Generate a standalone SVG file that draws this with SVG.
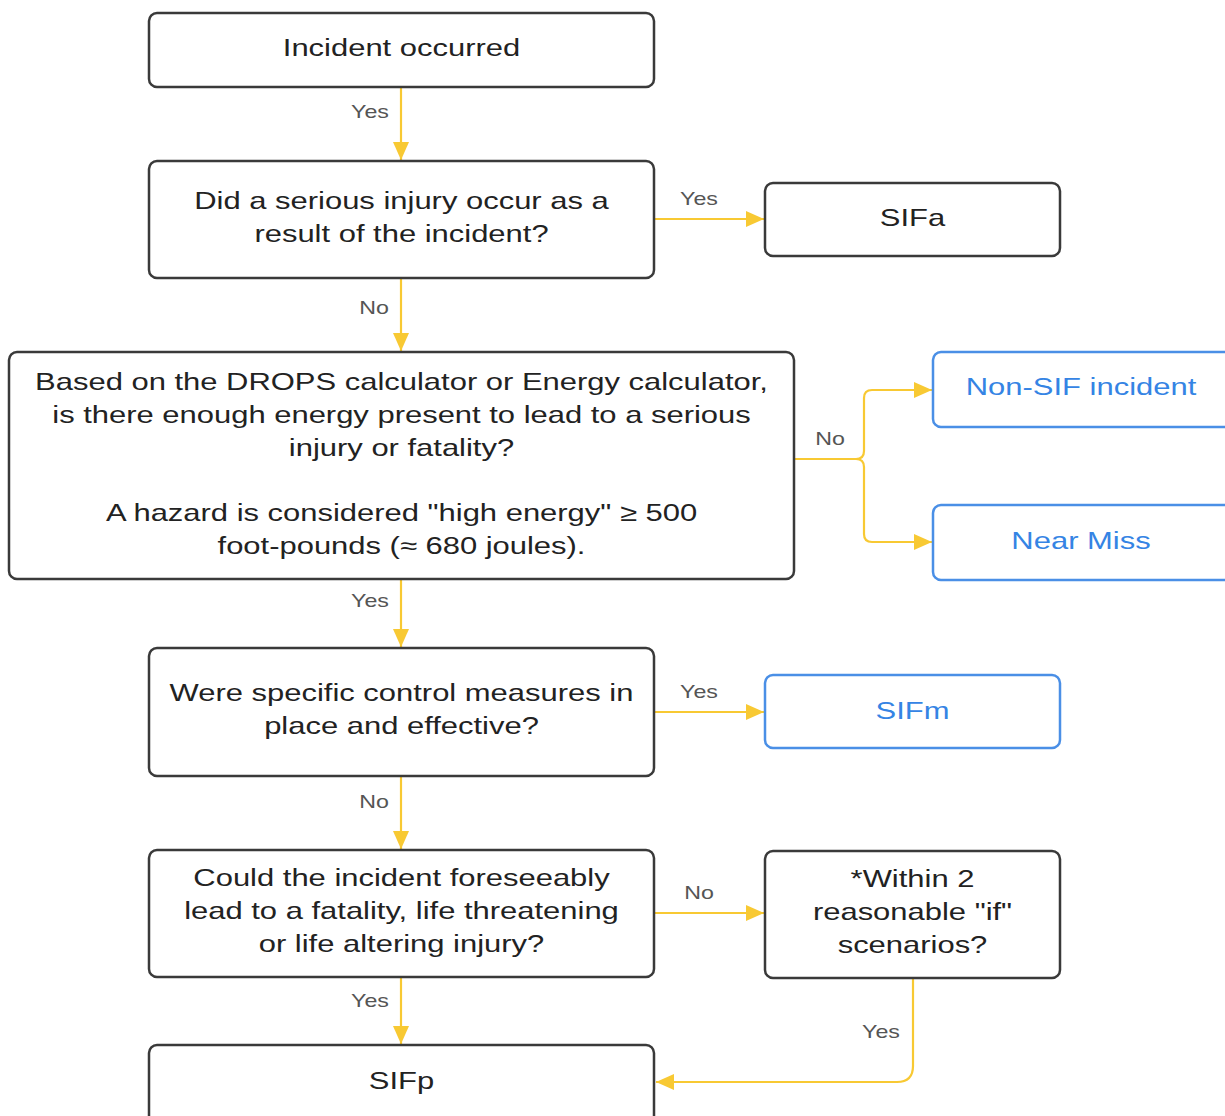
<svg xmlns="http://www.w3.org/2000/svg" width="1225" height="1116" viewBox="0 0 1225 1116">
<defs>
<marker id="arr" markerUnits="userSpaceOnUse" markerWidth="20" markerHeight="16" refX="18" refY="8" orient="auto">
<path d="M0,0 L18,8 L0,16 z" fill="#f8c933"/>
</marker>
<style>
.box{fill:#fff;stroke:#3a3a3a;stroke-width:2.5}
.blue{fill:#fff;stroke:#4a8fe6;stroke-width:2.5}
.t{font-family:"Liberation Sans",Arial,sans-serif;font-size:24px;fill:#222;text-anchor:middle}
.tb{font-family:"Liberation Sans",Arial,sans-serif;font-size:24px;fill:#3584e4;text-anchor:middle}
.lbl{font-family:"Liberation Sans",Arial,sans-serif;font-size:18px;fill:#555;text-anchor:middle}
.c{fill:none;stroke:#f8c933;stroke-width:2.2}
</style>
</defs>
<rect width="1225" height="1116" fill="#fff"/>
<g id="connectors">
<path class="c" d="M401,87 V160" marker-end="url(#arr)"/>
<text class="lbl" transform="translate(370,118) scale(1.29,1)">Yes</text>
<path class="c" d="M654,219 H764" marker-end="url(#arr)"/>
<text class="lbl" transform="translate(699,205) scale(1.29,1)">Yes</text>
<path class="c" d="M401,278 V351" marker-end="url(#arr)"/>
<text class="lbl" transform="translate(374,314) scale(1.29,1)">No</text>
<path class="c" d="M794,459 H856 Q864,459 864,451 V398 Q864,390 872,390 H932" marker-end="url(#arr)"/>
<path class="c" d="M856,459 Q864,459 864,467 V534 Q864,542 872,542 H932" marker-end="url(#arr)"/>
<text class="lbl" transform="translate(830,445) scale(1.29,1)">No</text>
<path class="c" d="M401,579 V647" marker-end="url(#arr)"/>
<text class="lbl" transform="translate(370,607) scale(1.29,1)">Yes</text>
<path class="c" d="M654,712 H764" marker-end="url(#arr)"/>
<text class="lbl" transform="translate(699,698) scale(1.29,1)">Yes</text>
<path class="c" d="M401,776 V849" marker-end="url(#arr)"/>
<text class="lbl" transform="translate(374,808) scale(1.29,1)">No</text>
<path class="c" d="M654,913 H764" marker-end="url(#arr)"/>
<text class="lbl" transform="translate(699,899) scale(1.29,1)">No</text>
<path class="c" d="M401,977 V1044" marker-end="url(#arr)"/>
<text class="lbl" transform="translate(370,1007) scale(1.29,1)">Yes</text>
<path class="c" d="M913,978 V1066 Q913,1082 897,1082 H656" marker-end="url(#arr)"/>
<text class="lbl" transform="translate(881,1038) scale(1.29,1)">Yes</text>
</g>
<g id="n1">
<rect class="box" x="149" y="13" width="505" height="74" rx="8"/>
<text class="t" transform="translate(401.5,56) scale(1.29,1)">Incident occurred</text>
</g>
<g id="n2">
<rect class="box" x="149" y="161" width="505" height="117" rx="8"/>
<text class="t" transform="translate(401.5,209) scale(1.29,1)">Did a serious injury occur as a</text>
<text class="t" transform="translate(401.5,242) scale(1.29,1)">result of the incident?</text>
</g>
<g id="n3">
<rect class="box" x="765" y="183" width="295" height="73" rx="8"/>
<text class="t" transform="translate(912.5,226) scale(1.29,1)">SIFa</text>
</g>
<g id="n4">
<rect class="box" x="9" y="352" width="785" height="227" rx="8"/>
<text class="t" transform="translate(401.5,390) scale(1.29,1)">Based on the DROPS calculator or Energy calculator,</text>
<text class="t" transform="translate(401.5,423) scale(1.29,1)">is there enough energy present to lead to a serious</text>
<text class="t" transform="translate(401.5,456) scale(1.29,1)">injury or fatality?</text>
<text class="t" transform="translate(401.5,521) scale(1.29,1)">A hazard is considered "high energy" ≥ 500</text>
<text class="t" transform="translate(401.5,554) scale(1.29,1)">foot-pounds (≈ 680 joules).</text>
</g>
<g id="n5">
<rect class="blue" x="933" y="352" width="300" height="75" rx="8"/>
<text class="tb" transform="translate(1081,395) scale(1.29,1)">Non-SIF incident</text>
</g>
<g id="n6">
<rect class="blue" x="933" y="505" width="300" height="75" rx="8"/>
<text class="tb" transform="translate(1081,549) scale(1.29,1)">Near Miss</text>
</g>
<g id="n7">
<rect class="box" x="149" y="648" width="505" height="128" rx="8"/>
<text class="t" transform="translate(401.5,701) scale(1.29,1)">Were specific control measures in</text>
<text class="t" transform="translate(401.5,734) scale(1.29,1)">place and effective?</text>
</g>
<g id="n8">
<rect class="blue" x="765" y="675" width="295" height="73" rx="8"/>
<text class="tb" transform="translate(912.5,719) scale(1.29,1)">SIFm</text>
</g>
<g id="n9">
<rect class="box" x="149" y="850" width="505" height="127" rx="8"/>
<text class="t" transform="translate(401.5,886) scale(1.29,1)">Could the incident foreseeably</text>
<text class="t" transform="translate(401.5,919) scale(1.29,1)">lead to a fatality, life threatening</text>
<text class="t" transform="translate(401.5,952) scale(1.29,1)">or life altering injury?</text>
</g>
<g id="n10">
<rect class="box" x="765" y="851" width="295" height="127" rx="8"/>
<text class="t" transform="translate(912.5,887) scale(1.29,1)">*Within 2</text>
<text class="t" transform="translate(912.5,920) scale(1.29,1)">reasonable "if"</text>
<text class="t" transform="translate(912.5,953) scale(1.29,1)">scenarios?</text>
</g>
<g id="n11">
<rect class="box" x="149" y="1045" width="505" height="90" rx="8"/>
<text class="t" transform="translate(401.5,1089) scale(1.29,1)">SIFp</text>
</g>
</svg>
